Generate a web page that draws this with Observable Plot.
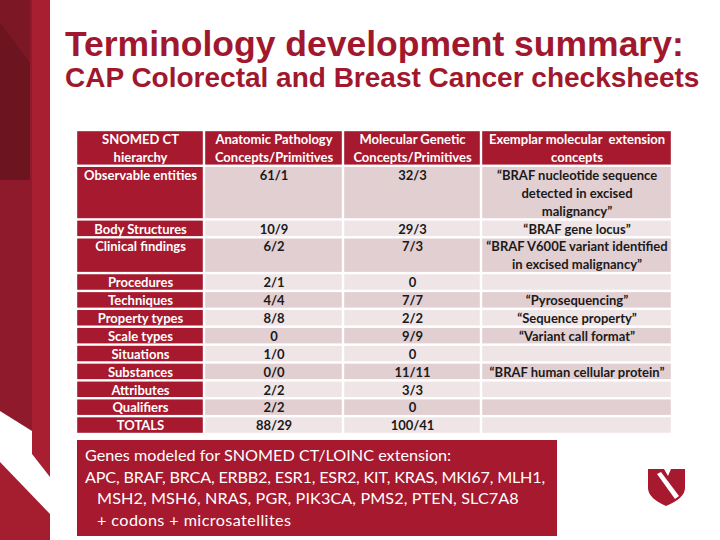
<!DOCTYPE html>
<html>
<head>
<meta charset="utf-8">
<script src="https://cdn.jsdelivr.net/npm/d3@7"></script>
<script src="https://cdn.jsdelivr.net/npm/@observablehq/plot@0.6"></script>
<style>
  html, body { margin: 0; padding: 0; background: #fff; }
  #slide { position: relative; width: 720px; height: 540px; overflow: hidden; background: #fff; }
  .title { position: absolute; left: 65px; font-family: "Liberation Sans", Arial, sans-serif; font-weight: bold; color: #A1182E; line-height: 1; white-space: nowrap; }
  #t1 { top: 27px; font-size: 35.5px; }
  #t2 { top: 64px; font-size: 28px; }
  #chart { position: absolute; left: 0; top: 124px; }
  #genes { position: absolute; left: 77px; top: 440px; width: 480px; height: 96px; background: #A6192E; color: #fff;
           font-family: Lato, "Open Sans", sans-serif; font-size: 16.2px; line-height: 21.5px; box-sizing: border-box; padding: 4px 0 0 8px; white-space: nowrap; }
  #genes .ind { padding-left: 12px; }
  #genes .l2 { letter-spacing: -0.18px; }
  #genes .l3 { letter-spacing: 0.1px; }
  #genes .l4 { letter-spacing: 0.4px; }
  #deco, #logo { position: absolute; left: 0; top: 0; }
</style>
</head>
<body>
<div id="slide">
  <svg id="deco" width="60" height="540">
    <polygon points="0,0 32,0 32,431 0,411" fill="#8E1A2B"/>
    <polygon points="0,0 30,0 30,63 0,22" fill="#7C1725"/>
    <polygon points="0,22 30,63 30,180 0,180" fill="#6C1420"/>
    <polygon points="32,0 50,0 50,477 32,454" fill="#A81F31"/>
    <polygon points="0,462 50,514 50,540 0,540" fill="#A51E30"/>
  </svg>
  <div class="title" id="t1">Terminology development summary:</div>
  <div class="title" id="t2">CAP Colorectal and Breast Cancer checksheets</div>
  <div id="chart"></div>
  <div id="genes"></div>
  <svg id="logo" width="720" height="540" style="pointer-events:none">
    <path d="M648,469 L664,469 L668,476 L671,469 L685,469 L685,488 Q685,498 666,506 Q648,498 648,488 Z" fill="#A6192E"/>
    <polygon points="657,474 661,472 679,496 675,499" fill="#fff"/>
  </svg>
</div>
<script>
// ---- data ----
const headers = ["SNOMED CT\nhierarchy", "Anatomic Pathology\nConcepts/Primitives", "Molecular Genetic\nConcepts/Primitives", "Exemplar molecular  extension\nconcepts"];
const hierarchies = ["Observable entities", "Body Structures", "Clinical findings", "Procedures", "Techniques", "Property types", "Scale types", "Situations", "Substances", "Attributes", "Qualifiers", "TOTALS"];
const anatomic = ["61/1", "10/9", "6/2", "2/1", "4/4", "8/8", "0", "1/0", "0/0", "2/2", "2/2", "88/29"];
const molecular = ["32/3", "29/3", "7/3", "0", "7/7", "2/2", "9/9", "0", "11/11", "3/3", "0", "100/41"];
const exemplars = ["“BRAF nucleotide sequence\ndetected in excised\nmalignancy”", "“BRAF gene locus”", "“BRAF V600E variant identified\nin excised malignancy”", "", "“Pyrosequencing”", "“Sequence property”", "“Variant call format”", "", "“BRAF human cellular protein”", "", "", ""];
const genesTitle = "Genes modeled for SNOMED CT/LOINC extension:";
const genesLine1 = ["APC", "BRAF", "BRCA", "ERBB2", "ESR1", "ESR2", "KIT", "KRAS", "MKI67", "MLH1"];
const genesLine2 = ["MSH2", "MSH6", "NRAS", "PGR", "PIK3CA", "PMS2", "PTEN", "SLC7A8"];
const genesExtra = "+ codons + microsatellites";

// ---- layout ----
const columns = [
  [headers[0], ...hierarchies],
  [headers[1], ...anatomic],
  [headers[2], ...molecular],
  [headers[3], ...exemplars]
];
const colW = [128, 139, 138, 191];
const colStart = colW.map((w, i) => d3.sum(colW.slice(0, i)));
const nRows = columns[0].length;
const rowLines = d3.range(nRows).map(r => d3.max(columns, c => c[r].split("\n").length));
const rowStart = rowLines.map((n, i) => d3.sum(rowLines.slice(0, i)));
const totalLines = d3.sum(rowLines);

const RED = "#A6192E", DARK = "#E2CFD2", LIGHT = "#EFE5E7";
const cells = [];
columns.forEach((col, c) => col.forEach((text, r) => {
  const red = r === 0 || c === 0;
  cells.push({
    x1: colStart[c], x2: colStart[c] + colW[c],
    y1: rowStart[r], y2: rowStart[r] + rowLines[r],
    text,
    fill: red ? RED : (r % 2 === 1 ? DARK : LIGHT),
    ink: red ? "#ffffff" : "#1a1a1a"
  });
}));

const chart = Plot.plot({
  width: 720, height: 318,
  marginLeft: 76, marginRight: 48, marginTop: 6, marginBottom: 8,
  x: {domain: [0, d3.sum(colW)], axis: null},
  y: {domain: [0, totalLines], reverse: true, axis: null},
  color: {type: "identity"},
  style: {background: "transparent"},
  marks: [
    Plot.rect(cells, {x1: "x1", x2: "x2", y1: "y1", y2: "y2", fill: "fill", inset: 1.2}),
    Plot.text(cells, {
      x: d => (d.x1 + d.x2) / 2, y: "y1", text: "text", fill: "ink",
      lineAnchor: "top", dy: 1, lineHeight: 1.375,
      fontSize: 13, fontWeight: "bold", fontFamily: "Lato, 'Open Sans', sans-serif"
    })
  ]
});
document.getElementById("chart").appendChild(chart);

const g = document.getElementById("genes");
[
  [genesTitle, ""],
  [genesLine1.join(", ") + ",", "l2"],
  [genesLine2.join(", "), "ind l3"],
  [genesExtra, "ind l4"]
].forEach(([t, cls]) => {
  const d = document.createElement("div");
  d.textContent = t;
  if (cls) d.className = cls;
  g.appendChild(d);
});
</script>
</body>
</html>
